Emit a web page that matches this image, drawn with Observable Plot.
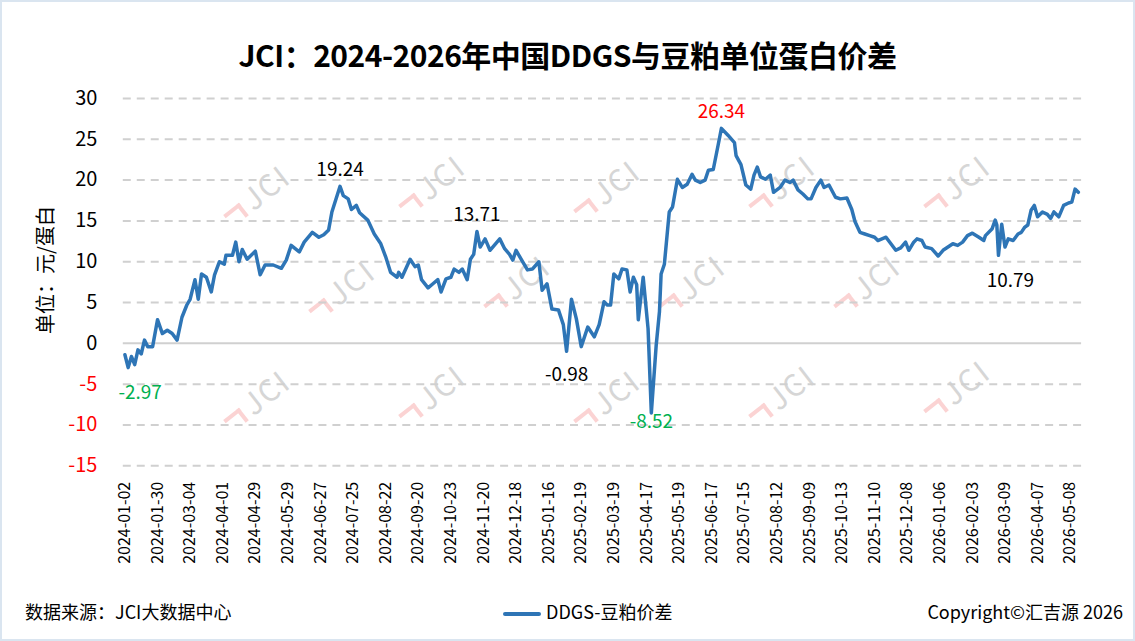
<!DOCTYPE html>
<html>
<head>
<meta charset="utf-8">
<script src="https://cdn.jsdelivr.net/npm/d3@7"></script>
<script src="https://cdn.jsdelivr.net/npm/@observablehq/plot@0.6"></script>
<style>
  body { margin: 0; background: #fff; font-family: "Noto Sans CJK SC", "Noto Sans", sans-serif; }
  #wrap { position: relative; width: 1131px; height: 637px; border: 2px solid #dae5f0; overflow: hidden; background: #fff; }
  #title { position: absolute; top: 0; left: 0; width: 100%; height: 80px; line-height: 104px; text-align: center; font-size: 30px; font-weight: 700; color: #000; letter-spacing: -0.5px; }
  #chart { position: absolute; top: 78px; left: -2px; }
  #ylab { position: absolute; left: 42px; top: 268px; transform: translate(-50%, -50%) rotate(-90deg); font-size: 20px; white-space: nowrap; }
  .foot { position: absolute; top: 596px; font-size: 18px; color: #000; }
  .wm { position: absolute; transform: rotate(-38deg); color: #d6d6d6; font-size: 30px; font-weight: 400; letter-spacing: 2px; }
  .wm i { display: inline-block; width: 16px; height: 12px; border-top: 4px solid #fbd3d3; border-right: 4px solid #fbd3d3; margin-right: 6px; }
</style>
</head>
<body>
<div id="wrap">
  <div id="title">JCI：2024-2026年中国DDGS与豆粕单位蛋白价差</div>
  <div id="marks"></div>
  <div id="chart"></div>
  <div id="ylab">单位：元/蛋白</div>
  <div class="foot" style="left:23px">数据来源：JCI大数据中心</div>
  <div class="foot" style="left:501px"><span style="display:inline-block;width:38px;height:4px;background:#2e75b6;vertical-align:middle;margin-right:5px;border-radius:2px"></span>DDGS-豆粕价差</div>
  <div class="foot" style="right:10px">Copyright©汇吉源 2026</div>
</div>
<script>
// trading-day index since 2024-01-02 and the spread on that day
const days = [0, 2, 4, 6, 8, 10, 12, 14, 17, 20, 23, 26, 29, 32, 35, 38, 40, 43, 45, 47, 50, 53, 55, 58, 61, 62, 66, 68, 70, 72, 75, 80, 83, 86, 91, 96, 99, 102, 107, 110, 115, 119, 122, 125, 127, 132, 134, 137, 139, 142, 144, 149, 153, 157, 160, 163, 167, 168, 170, 175, 178, 180, 182, 186, 189, 192, 194, 197, 200, 202, 205, 207, 210, 212, 214, 216, 218, 221, 224, 230, 233, 236, 238, 240, 244, 247, 250, 254, 256, 259, 262, 266, 269, 271, 274, 277, 280, 284, 288, 291, 294, 296, 298, 300, 303, 305, 308, 310, 312, 314, 315, 318, 321, 323, 326, 328, 329, 331, 334, 336, 339, 342, 345, 348, 350, 353, 356, 358, 361, 364, 366, 370, 374, 375, 378, 381, 384, 386, 388, 390, 393, 396, 398, 402, 405, 408, 410, 413, 416, 419, 421, 424, 427, 429, 432, 436, 439, 443, 446, 448, 451, 454, 457, 460, 462, 467, 470, 473, 476, 479, 481, 484, 486, 489, 491, 495, 499, 502, 505, 508, 511, 514, 517, 520, 524, 527, 528, 532, 534, 535, 536, 538, 540, 542, 545, 548, 550, 552, 554, 556, 558, 560, 563, 566, 568, 570, 573, 576, 579, 581, 583, 585];
const values = [-1.4, -2.97, -1.6, -2.6, -0.8, -1.3, 0.4, -0.4, -0.4, 2.9, 1.2, 1.6, 1.2, 0.4, 3.2, 4.7, 5.4, 7.8, 5.4, 8.5, 8.1, 6.3, 8.4, 10.0, 9.7, 10.8, 10.8, 12.4, 10.0, 11.5, 10.3, 11.3, 8.4, 9.6, 9.6, 9.2, 10.2, 12.0, 11.2, 12.4, 13.6, 13.0, 13.3, 13.9, 16.1, 19.24, 18.1, 17.7, 16.4, 16.9, 16.0, 15.1, 13.4, 12.2, 10.6, 8.7, 8.1, 8.7, 8.1, 10.3, 9.4, 9.6, 7.8, 6.8, 7.3, 7.8, 6.3, 7.9, 8.1, 9.1, 8.7, 9.1, 7.8, 10.3, 10.9, 13.71, 11.8, 12.8, 11.4, 12.8, 11.6, 10.9, 10.2, 11.4, 10.0, 9.0, 9.1, 10.0, 6.5, 7.3, 4.2, 4.1, 2.3, -0.98, 5.4, 3.0, -0.4, 2.0, 0.8, 2.3, 5.1, 4.7, 4.7, 8.5, 7.9, 9.1, 9.0, 6.3, 8.1, 7.2, 2.9, 8.1, 1.8, -8.52, -0.2, 3.9, 8.5, 9.7, 16.1, 16.7, 20.1, 19.1, 19.5, 20.7, 20.0, 19.7, 20.0, 21.2, 21.3, 24.3, 26.34, 25.5, 24.6, 23.0, 21.9, 19.4, 18.9, 20.6, 21.6, 20.4, 20.1, 20.6, 18.5, 19.1, 20.0, 19.7, 20.0, 18.8, 18.3, 17.7, 17.7, 19.1, 20.0, 19.1, 19.4, 17.9, 17.7, 17.8, 16.4, 14.9, 13.6, 13.4, 13.2, 13.0, 12.6, 13.0, 12.2, 11.4, 11.7, 12.4, 11.4, 12.4, 12.8, 12.6, 11.8, 11.6, 10.7, 11.4, 11.8, 12.2, 12.0, 12.4, 13.2, 13.5, 13.0, 12.6, 13.2, 14.0, 15.1, 14.5, 10.79, 14.6, 11.8, 12.8, 12.6, 13.4, 13.6, 14.2, 14.5, 16.3, 16.9, 15.5, 16.1, 15.8, 15.3, 16.1, 15.5, 16.9, 17.2, 17.3, 18.9, 18.5];

const tickLabels = ["2024-01-02", "2024-01-30", "2024-03-04", "2024-04-01", "2024-04-29", "2024-05-29", "2024-06-27", "2024-07-25", "2024-08-22", "2024-09-20", "2024-10-23", "2024-11-20", "2024-12-18", "2025-01-16", "2025-02-19", "2025-03-19", "2025-04-17", "2025-05-19", "2025-06-17", "2025-07-15", "2025-08-12", "2025-09-09", "2025-10-13", "2025-11-10", "2025-12-08", "2026-01-06", "2026-02-03", "2026-03-09", "2026-04-07", "2026-05-08"];
const tickDays = [0, 20, 40, 60, 80, 100, 120, 140, 160, 180, 200, 220, 240, 260, 280, 300, 320, 340, 360, 380, 400, 420, 440, 460, 480, 500, 520, 540, 560, 580];
const yTicks = [-15, -10, -5, 0, 5, 10, 15, 20, 25, 30];

// labelled extremes and where their label sits
const noteValues = [-2.97, 19.24, 13.71, -0.98, -8.52, 26.34, 10.79];
const noteColors = ["#00b050", "#000", "#000", "#000", "#00b050", "#ff0000", "#000"];
const notePlace = ["belowRight", "above", "above", "below", "under", "above", "belowRight"];

const series = days.map((d, i) => ({day: d, value: values[i]}));
const notes = noteValues.map((v, i) => ({day: days[values.indexOf(v)], value: v, color: noteColors[i], place: notePlace[i]}));
const noteText = (place, opts) => Plot.text(notes.filter(d => d.place === place),
  {x: "day", y: "value", text: d => d.value.toFixed(2), fill: "color", fontSize: 19, ...opts});

// faint logo watermarks behind the plot
const wmSpots = [[215, 170], [390, 160], [565, 165], [740, 160], [915, 160], [300, 265], [475, 260], [650, 260], [825, 260], [215, 375], [390, 370], [565, 375], [740, 370], [915, 365]];
d3.select("#marks").selectAll("div").data(wmSpots).join("div")
  .attr("class", "wm")
  .style("left", d => d[0] + "px")
  .style("top", d => d[1] + "px")
  .html("<i></i>JCI");

const chart = Plot.plot({
  width: 1135,
  height: 512,
  marginTop: 18,
  marginLeft: 123,
  marginRight: 52,
  marginBottom: 126,
  x: {domain: [-1, 587], axis: null},
  y: {domain: [-15, 30], axis: null},
  style: {fontFamily: "Noto Sans CJK SC", fontSize: "19px", color: "#000", background: "transparent", overflow: "visible"},
  marks: [
    Plot.gridY(yTicks.filter(d => d !== 0), {stroke: "#d0d0d0", strokeOpacity: 1, strokeWidth: 2, strokeDasharray: "8,6"}),
    Plot.ruleY([0], {stroke: "#d0d0d0", strokeWidth: 2}),
    Plot.axisY(yTicks.filter(d => d >= 0), {tickSize: 0, tickPadding: 26, fontSize: 20, label: null, tickFormat: d => String(d)}),
    Plot.axisY(yTicks.filter(d => d < 0), {tickSize: 0, tickPadding: 26, fontSize: 20, fill: "#ff0000", label: null, tickFormat: d => String(d)}),
    Plot.axisX(tickDays, {tickSize: 0, tickRotate: -90, tickPadding: 16, fontSize: 16, label: null,
      tickFormat: d => tickLabels[tickDays.indexOf(d)]}),
    Plot.line(series, {x: "day", y: "value", stroke: "#2e75b6", strokeWidth: 3.5, strokeLinejoin: "round"}),
    noteText("above", {lineAnchor: "bottom", dy: -10}),
    noteText("below", {lineAnchor: "top", dy: 16}),
    noteText("belowRight", {lineAnchor: "top", dx: 12, dy: 18}),
    noteText("under", {lineAnchor: "top", dy: 2})
  ]
});

d3.select("#chart").append(() => chart);
</script>
</body>
</html>
